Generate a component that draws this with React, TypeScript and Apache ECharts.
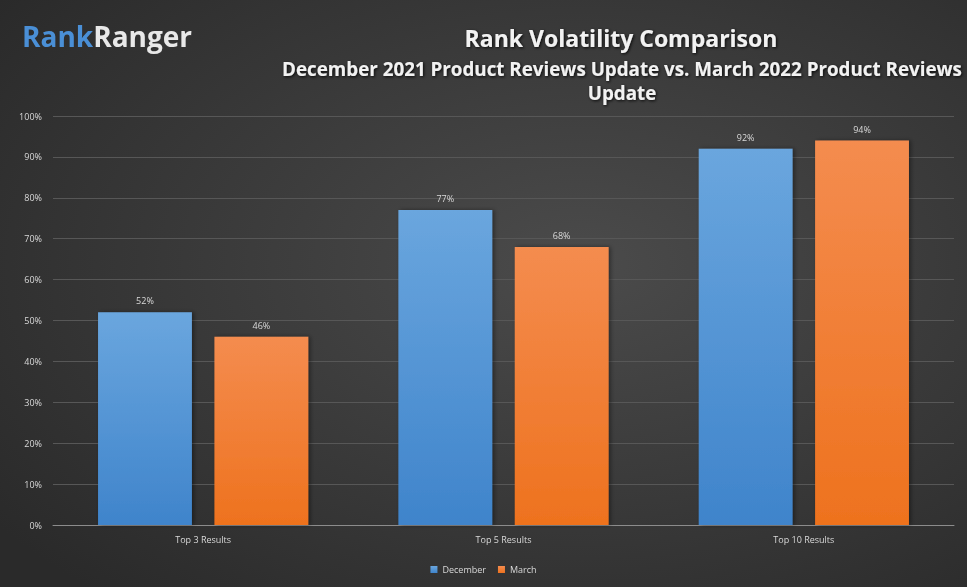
import React, { useEffect, useRef } from "react";
import * as echarts from "echarts";

const categories = ["Top 3 Results", "Top 5 Results", "Top 10 Results"];
const december = [52, 77, 92];
const march = [46, 68, 94];
const yTicks = [0, 10, 20, 30, 40, 50, 60, 70, 80, 90, 100];

export default function App() {
  const ref = useRef<HTMLDivElement>(null);
  useEffect(() => {
    const chart = echarts.init(ref.current!, null, { renderer: "svg" });
    const font = "'Open Sans', 'Noto Sans', sans-serif";
    const shadow = {
      textShadowColor: "rgba(0,0,0,0.85)",
      textShadowBlur: 3,
      textShadowOffsetX: 1,
      textShadowOffsetY: 1,
    };
    chart.setOption({
      animation: false,
      backgroundColor: {
        type: "radial",
        x: 0.6,
        y: 0.45,
        r: 0.75,
        colorStops: [
          { offset: 0, color: "#4b4b4b" },
          { offset: 1, color: "#2a2a2a" },
        ],
      },
      textStyle: { fontFamily: font },
      title: [
        {
          text: "Rank Volatility Comparison",
          left: 616,
          top: 21,
          textAlign: "center",
          textStyle: {
            color: "#f2f2f2",
            fontSize: 23,
            fontWeight: "bold",
            fontFamily: font,
            ...shadow,
          },
        },
        {
          text: "December 2021 Product Reviews Update vs. March 2022 Product Reviews\nUpdate",
          left: 617,
          top: 52,
          textAlign: "center",
          textStyle: {
            color: "#f2f2f2",
            fontSize: 18.8,
            lineHeight: 24,
            fontWeight: "bold",
            fontFamily: font,
            ...shadow,
          },
        },
      ],
      graphic: [
        {
          type: "text",
          left: 22,
          top: 22,
          style: {
            text: "{a|Rank}{b|Ranger}",
            rich: {
              a: { fill: "#4a8fd6", fontSize: 28, fontWeight: "bold", fontFamily: font },
              b: { fill: "#e8e8e8", fontSize: 28, fontWeight: "bold", fontFamily: font },
            },
          },
        },
      ],
      legend: {
        bottom: 8,
        left: "center",
        itemWidth: 7,
        itemHeight: 7,
        itemGap: 12,
        icon: "rect",
        textStyle: { color: "#d9d9d9", fontSize: 9, fontFamily: font },
        data: ["December", "March"],
      },
      grid: { left: 53, right: 13, top: 116, bottom: 62, containLabel: false },
      xAxis: {
        type: "category",
        data: categories,
        axisLine: { lineStyle: { color: "#8c8c8c", width: 1 } },
        axisTick: { show: false },
        axisLabel: { color: "#d9d9d9", fontSize: 9, margin: 10, fontFamily: font },
      },
      yAxis: {
        type: "value",
        min: 0,
        max: 100,
        interval: 10,
        axisLine: { show: false },
        axisTick: { show: false },
        axisLabel: {
          color: "#d9d9d9",
          fontSize: 9,
          margin: 11,
          fontFamily: font,
          formatter: (v: number) => (yTicks.includes(v) ? v + "%" : ""),
        },
        splitLine: { lineStyle: { color: "#575757", width: 1 } },
      },
      series: [
        {
          name: "December",
          type: "bar",
          data: december,
          barGap: "24%",
          barCategoryGap: "30%",
          itemStyle: {
            color: {
              type: "linear",
              x: 0,
              y: 0,
              x2: 0,
              y2: 1,
              colorStops: [
                { offset: 0, color: "#6aa6de" },
                { offset: 1, color: "#3f84cb" },
              ],
            },
            shadowColor: "rgba(0,0,0,0.4)",
            shadowBlur: 4,
            shadowOffsetX: 2,
          },
          label: {
            show: true,
            position: "top",
            distance: 7,
            color: "#d9d9d9",
            fontSize: 9,
            fontFamily: font,
            formatter: "{c}%",
          },
        },
        {
          name: "March",
          type: "bar",
          data: march,
          itemStyle: {
            color: {
              type: "linear",
              x: 0,
              y: 0,
              x2: 0,
              y2: 1,
              colorStops: [
                { offset: 0, color: "#f48c4f" },
                { offset: 1, color: "#ee721e" },
              ],
            },
            shadowColor: "rgba(0,0,0,0.4)",
            shadowBlur: 4,
            shadowOffsetX: 2,
          },
          label: {
            show: true,
            position: "top",
            distance: 7,
            color: "#d9d9d9",
            fontSize: 9,
            fontFamily: font,
            formatter: "{c}%",
          },
        },
      ],
    });
    return () => chart.dispose();
  }, []);
  return (
    <div
      ref={ref}
      style={{ position: "fixed", left: 0, top: 0, width: 967, height: 587 }}
    />
  );
}
